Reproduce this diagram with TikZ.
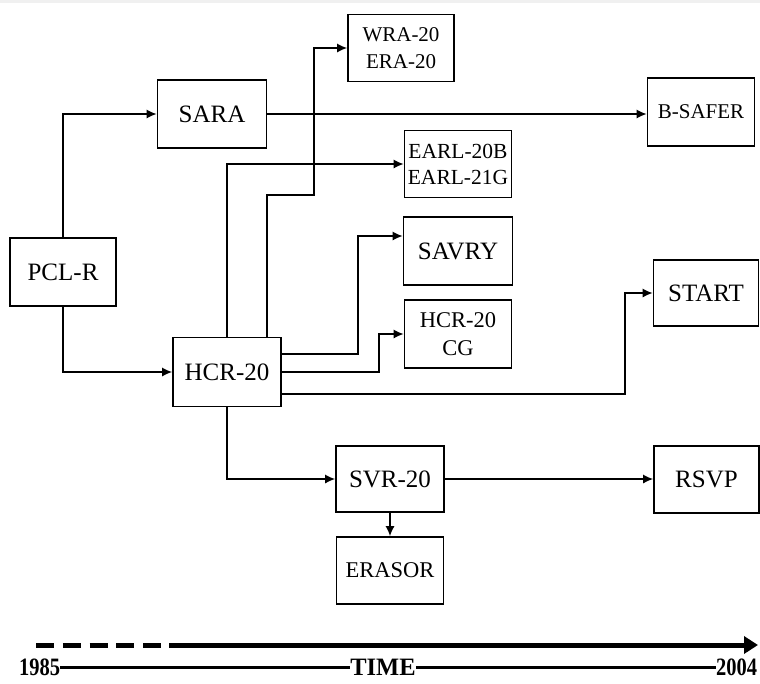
\documentclass[tikz,border=0pt]{standalone}
\usepackage{fontspec}
\setmainfont{Liberation Serif}
\usetikzlibrary{arrows.meta}
\tikzset{
  box/.style={draw, line width=1.6pt, rectangle, inner sep=0pt, align=center,
    minimum width=106pt, minimum height=67pt, font=\fontsize{25}{27}\selectfont},
  midbox/.style={box, font=\fontsize{22.5}{28}\selectfont},
  smallbox/.style={box, font=\fontsize{21}{27}\selectfont},
  tinybox/.style={box, font=\fontsize{21.5}{26}\selectfont},
  conn/.style={line width=1.5pt, -{Latex[length=10pt,width=9pt]}},
  tl/.style={font=\bfseries\fontsize{25}{27}\selectfont, inner sep=0pt},
}
\begin{document}
\begin{tikzpicture}[x=1pt,y=-1pt]
\useasboundingbox (0,0) rectangle (760,683);
\fill[gray!12] (0,0) rectangle (760,3);
% boxes
\node[box, minimum width=106pt, minimum height=68pt] (pcl) at (63,272) {PCL-R};
\node[box, minimum width=109pt, minimum height=68pt] (sara) at (212,114) {SARA};
\node[smallbox, minimum width=106pt, minimum height=67pt] (wra) at (401,48) {WRA-20\\ERA-20};
\node[smallbox, minimum width=107pt, minimum height=68pt] (bsafer) at (701,112) {B-SAFER};
\node[tinybox, minimum width=107pt, minimum height=67pt] (earl) at (458,164) {EARL-20B\\EARL-21G};
\node[box, minimum width=109pt, minimum height=68pt] (savry) at (458,251) {SAVRY};
\node[midbox, minimum width=107pt, minimum height=68pt] (cg) at (458,334) {HCR-20\\CG};
\node[box, minimum width=108pt, minimum height=69pt] (hcr) at (227,372) {HCR-20};
\node[box, minimum width=105pt, minimum height=66pt] (start) at (706,293) {START};
\node[box, minimum width=108pt, minimum height=66pt] (svr) at (390,479) {SVR-20};
\node[midbox, minimum width=107pt, minimum height=67pt] (erasor) at (390,570.5) {ERASOR};
\node[box, minimum width=105pt, minimum height=67pt] (rsvp) at (706.5,479.5) {RSVP};
% connectors
\draw[conn] (pcl.north) |- (sara.west);
\draw[conn] (pcl.south) |- (hcr.west);
\draw[conn] (sara.east) -- (sara.east -| bsafer.west);
\draw[conn] (hcr.north) |- (earl.west);
\coordinate (w1) at (314,195);
\draw[conn] ([xshift=40pt]hcr.north) |- (w1) |- (wra.west);
\draw[conn] ([yshift=18pt]hcr.east) -- ++(76,0) |- ([yshift=15pt]savry.west);
\draw[conn] (hcr.east) -- ++(97,0) |- (cg.west);
\draw[conn] ([yshift=-22pt]hcr.east) -- ++(343,0) |- (start.west);
\draw[conn] (hcr.south) |- (svr.west);
\draw[conn] (svr.east) -- (svr.east -| rsvp.west);
\draw[conn] (svr.south) -- (erasor.north);
% timeline
\coordinate (d0) at (36,645);
\coordinate (d1) at (161,645);
\coordinate (s0) at (169,645);
\coordinate (s1) at (758,645);
\draw[line width=5pt, dash pattern=on 18pt off 8.8pt] (d0) -- (d1);
\draw[line width=5pt, -{Triangle[length=14pt,width=17pt]}] (s0) -- (s1);
\node[tl, anchor=base west] (y0) at (19,675) {\scalebox{0.82}[1]{1985}};
\node[tl, anchor=base] (tm) at (383,675) {\scalebox{0.98}[1]{TIME}};
\node[tl, anchor=base west] (y1) at (716,675) {\scalebox{0.82}[1]{2004}};
\coordinate (l0) at (0,667);
\draw[line width=3pt] (y0.east |- l0) -- (tm.west |- l0);
\draw[line width=3pt] (tm.east |- l0) -- (y1.west |- l0);
\end{tikzpicture}
\end{document}
